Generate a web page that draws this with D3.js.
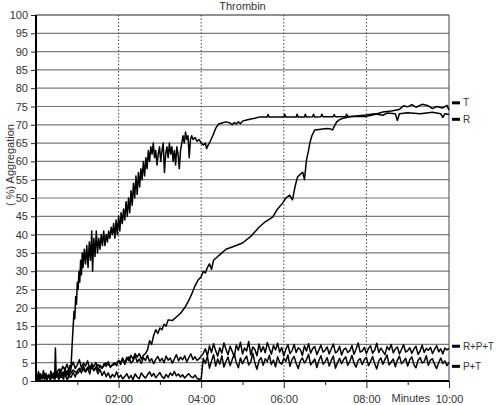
<!DOCTYPE html>
<html>
<head>
<meta charset="utf-8">
<script src="https://cdn.jsdelivr.net/npm/d3@7"></script>
<style>
  body { margin: 0; background: #fff; }
  svg { display: block; font-family: "Liberation Sans", Arial, sans-serif; }
  .grid-h line { stroke: #7a7a7a; stroke-width: 1.2; }
  .grid-v line { stroke: #444; stroke-width: 1; stroke-dasharray: 1.5,2; }
  .axis text { fill: #333; font-size: 11px; }
  .axis line { stroke: #222; }
  .trace { fill: none; stroke: #000; stroke-width: 1.5; stroke-linejoin: round; }
</style>
</head>
<body>
<svg width="498" height="405"></svg>
<script>
// tick values
var yTicks = d3.range(0, 101, 5);
var xMajor = [2, 4, 6, 8, 10];
var xMinor = [1, 3, 5, 7, 9];
var xTickLabels = ["02:00", "04:00", "06:00", "08:00", "10:00"];

// T : [minutes, % aggregation]
var seriesT = [
  [0,1.8],[0.03,0.4],[0.06,2.6],[0.09,0.2],[0.12,1.5],[0.15,0.7],[0.18,2.9],[0.21,0.5],[0.24,2.1],[0.27,0.3],
  [0.3,1.7],[0.33,0.6],[0.36,2.7],[0.39,1.1],[0.42,2.2],[0.45,0.4],[0.47,9.0],[0.49,1.0],[0.52,2.5],[0.55,0.6],
  [0.58,3.3],[0.61,1.2],[0.64,2.4],[0.67,0.5],[0.7,3.6],[0.73,1.4],[0.76,2.9],[0.79,0.8],[0.82,4.2],[0.84,2.5],
  [0.86,6.5],[0.88,11],[0.9,15],[0.92,19],[0.94,17],[0.96,23],[0.98,21],[1.0,27],[1.02,25],[1.04,30],
  [1.06,27],[1.08,33],[1.1,29],[1.12,35],[1.14,31],[1.17,36],[1.2,32],[1.23,37],[1.26,31],[1.29,38],
  [1.32,33],[1.35,41],[1.37,30],[1.4,39],[1.43,34],[1.46,41],[1.49,35],[1.52,39],[1.55,36],[1.58,40],
  [1.61,37],[1.64,41],[1.67,37],[1.7,40],[1.73,38],[1.76,41],[1.79,39],[1.82,42],[1.85,40],[1.88,43],
  [1.91,39],[1.94,44],[1.97,40],[2.0,45],[2.03,41],[2.06,46],[2.09,43],[2.12,47],[2.15,44],[2.18,49],
  [2.21,45],[2.24,50],[2.27,46],[2.3,52],[2.33,48],[2.36,54],[2.39,50],[2.42,56],[2.45,51],[2.48,57],
  [2.51,53],[2.54,58],[2.57,55],[2.6,60],[2.63,56],[2.66,61],[2.69,58],[2.72,63],[2.75,60],[2.78,64],
  [2.81,62],[2.84,65],[2.87,61],[2.9,63],[2.93,59],[2.96,62],[2.99,64],[3.02,60],[3.05,63],[3.08,65],
  [3.11,57],[3.14,62],[3.17,64],[3.2,61],[3.23,65],[3.26,62],[3.29,64],[3.32,60],[3.35,63],[3.38,59],
  [3.41,64],[3.44,62],[3.47,58],[3.5,63],[3.53,65],[3.56,67],[3.59,65],[3.62,68],[3.65,66],[3.68,67],
  [3.71,61],[3.74,66],[3.77,67],[3.8,66],[3.85,66.5],[3.9,65.5],[3.95,66],[4.0,65],[4.05,64.5],[4.1,65],
  [4.13,63.5],[4.17,64.5],[4.22,65.5],[4.28,67],[4.35,69],[4.42,70.2],[4.5,70.5],[4.6,70.8],[4.7,70.5],[4.75,70],
  [4.8,70.6],[4.85,70.2],[4.9,70.8],[4.95,70.3],[5.0,71],[5.1,71.3],[5.2,71.6],[5.3,71.8],[5.4,72.1],[5.6,72.1],
  [5.62,72.8],[5.65,72.1],[5.9,72.1],[6.0,72.1],[6.02,72.9],[6.05,72.1],[6.3,72.1],[6.32,72.9],[6.35,72.1],[6.5,72.1],
  [6.52,72.9],[6.55,72.1],[6.7,72.2],[6.72,72.9],[6.75,72.1],[6.9,72.2],[6.92,72.9],[6.95,72.2],[7.2,72.2],[7.22,72.8],
  [7.25,72.2],[7.5,72.3],[7.52,72.9],[7.55,72.3],[7.8,72.3],[8.0,72.3],[8.2,72.8],[8.4,73.5],[8.6,73.8],[8.8,74.2],
  [8.9,75.2],[9.0,74.9],[9.1,75.5],[9.2,74.8],[9.35,75.6],[9.5,75.2],[9.6,74.4],[9.7,75.0],[9.85,74.6],[9.95,75.3],[10,74.0]
];

// R : [minutes, % aggregation]
var seriesR = [
  [0,1],[0.1,2],[0.2,0.5],[0.3,1.5],[0.4,0.8],[0.5,2.2],[0.6,1.2],[0.7,2.8],[0.8,1.5],[0.9,3],
  [1.0,2],[1.1,3.5],[1.2,2.5],[1.3,4],[1.4,3],[1.5,4.5],[1.6,3.5],[1.7,5],[1.8,4],[1.9,4.5],
  [2.0,5.5],[2.05,4.5],[2.1,6],[2.15,5],[2.2,6.5],[2.25,5.5],[2.3,7],[2.35,6],[2.4,7.5],[2.45,6.5],
  [2.5,7.5],[2.55,6],[2.6,7],[2.65,7.5],[2.7,8.5],[2.75,11],[2.8,10],[2.85,12.5],[2.9,14],[2.95,13],
  [3.0,14.5],[3.05,14],[3.1,15.5],[3.15,15],[3.2,16.7],[3.3,16.5],[3.4,17.5],[3.5,18.5],[3.6,20],[3.7,22],
  [3.78,24],[3.85,26],[3.92,27.5],[4.0,28.5],[4.05,30],[4.1,29.5],[4.15,31],[4.2,32],[4.25,30.5],[4.3,33],
  [4.4,34],[4.5,35],[4.6,36],[4.8,36.8],[5.0,37.7],[5.2,39.5],[5.4,42],[5.55,43.5],[5.73,44.8],[5.85,47],
  [5.97,48.6],[6.05,50],[6.14,50.8],[6.21,49.5],[6.27,53],[6.33,55.7],[6.4,56.5],[6.46,57],[6.5,55],[6.55,60.4],
  [6.6,63],[6.63,65],[6.68,67],[6.75,68.6],[6.9,68.8],[7.04,69],[7.12,68.9],[7.18,68.6],[7.22,69.5],[7.28,70.8],
  [7.35,71.4],[7.43,71.8],[7.6,72.2],[7.8,72.5],[8.0,72.7],[8.2,73],[8.4,72.6],[8.5,73.2],[8.7,73],[8.75,71.2],
  [8.8,73],[9.0,73.3],[9.3,73],[9.5,73.3],[9.6,73.4],[9.8,73],[9.85,72],[9.9,73],[10,72.8]
];

// sample interval of the low traces, minutes
var lowStep = 0.05;

// P+T, one value per sample
var seriesPT = [
  1.2,0.4,1.8,0.6,2.0,0.8,1.4,0.3,1.6,0.9,2.2,0.5,1.3,0.7,1.9,0.4,1.5,1.0,2.4,1.1,2.8,
  3.5,2.2,4.1,2.6,3.8,1.9,4.4,2.8,3.6,2.0,3.2,1.5,
  2.6,1.2,2.2,0.8,1.8,1.1,2.5,0.9,
  1.6,0.6,1.2,2.0,0.7,1.5,0.4,1.9,1.1,0.6,2.2,1.4,0.8,1.7,2.5,1.3,2.1,0.9,1.6,2.3,
  1.2,0.7,1.8,1.0,2.2,1.5,2.6,1.4,1.9,1.1,1.7,0.8,1.5,2.0,1.2,0.9,1.6,0.7,0.5,0.6,
  6.2,4.8,6.8,3.5,5.5,7.2,4.1,6.0,4.6,6.9,3.8,5.4,6.5,4.2,5.8,7.4,5.0,3.6,6.3,4.7,
  5.9,6.8,4.4,5.2,7.6,4.9,3.2,5.6,6.4,4.3,6.1,5.3,7.0,4.5,5.7,3.9,6.6,5.1,4.6,6.2,
  5.4,7.1,4.0,5.9,6.7,4.8,3.4,5.5,6.3,4.9,5.8,7.3,4.4,5.2,6.0,3.7,5.6,6.9,4.6,5.3,
  6.4,4.1,5.7,6.8,3.5,5.0,6.2,4.7,5.9,6.6,4.3,5.4,7.0,4.9,3.8,5.6,6.1,4.5,5.8,6.5,
  4.2,5.3,6.7,4.8,3.3,5.5,6.3,4.6,5.9,7.1,4.4,5.2,6.0,3.9,5.7,6.8,4.7,5.4,6.2,4.1,
  5.8,6.6,4.5,3.6,5.6,6.4,4.9,5.3,6.9,4.3,5.7,6.1,4.6,3.4,5.0,6.3,4.8,5.5,4.2,5.1
];

// R+P+T, one value per sample
var seriesRPT = [
  0.8,1.6,0.3,1.2,2.0,0.5,1.4,0.9,1.8,0.4,2.3,
  3.2,2.4,4.0,3.0,4.6,2.8,3.8,5.2,3.4,4.4,5.8,3.6,4.9,4.1,5.5,3.3,4.7,3.9,5.1,2.9,
  4.3,3.5,4.8,4.0,5.3,3.7,4.5,5.0,4.2,5.6,
  5.1,6.3,4.6,5.8,6.6,4.9,5.5,6.9,5.2,6.0,4.8,6.4,5.6,7.0,5.3,6.1,4.7,5.9,6.7,5.4,
  6.2,5.0,6.8,5.7,6.3,4.9,6.0,7.2,5.5,6.5,5.8,6.9,5.2,6.4,7.4,5.9,6.6,5.6,6.1,6.8,
  7.5,8.8,6.9,9.6,7.8,10.2,8.3,6.8,9.1,7.6,10.4,8.7,7.2,9.5,8.1,6.6,9.8,8.4,10.6,7.4,
  9.0,8.2,10.8,7.1,9.3,8.6,6.9,10.1,8.0,9.4,7.7,10.5,8.9,7.3,9.7,8.5,10.3,7.9,9.2,6.8,
  8.7,9.9,7.5,8.3,10.0,7.8,9.1,8.6,7.0,9.6,8.2,10.2,7.6,8.9,9.4,7.2,8.5,9.8,7.9,8.4,
  9.3,7.4,8.8,10.1,7.7,8.1,9.5,7.1,8.6,9.0,7.8,8.3,9.7,7.3,8.7,10.4,7.9,8.2,9.2,7.5,
  8.9,9.6,7.6,8.4,10.3,7.8,9.0,8.1,7.2,9.4,8.5,10.0,7.7,8.8,9.3,7.4,8.6,9.9,7.9,8.3,
  9.1,7.6,8.7,9.5,7.3,8.2,9.8,7.8,8.9,8.4,9.2,7.5,8.6,9.7,8.0,8.8,7.4,9.0,8.5,8.9
];

var legendNames = ["T", "R", "R+P+T", "P+T"];
var legendAt = [76, 71.5, 9.5, 4];

var svg = d3.select("svg"),
margin = {top: 15, right: 49, bottom: 24, left: 36},
width = +svg.attr("width") - margin.left - margin.right,
height = +svg.attr("height") - margin.top - margin.bottom;

var x = d3.scaleLinear().domain([0, 10]).range([0, width]),
y = d3.scaleLinear().domain([0, 100]).range([height, 0]);

var g = svg.append("g")
.attr("transform", "translate(" + margin.left + "," + margin.top + ")");

// title
svg.append("text")
  .attr("x", margin.left + width / 2)
  .attr("y", 10)
  .attr("text-anchor", "middle")
  .style("font-size", "11px")
  .style("fill", "#333")
  .text("Thrombin");

// horizontal grid
g.append("g")
  .attr("class", "grid-h")
  .selectAll("line")
  .data(yTicks.filter(function(d) { return d > 0; }))
  .enter().append("line")
  .attr("x1", 0)
  .attr("x2", width)
  .attr("y1", function(d) { return y(d); })
  .attr("y2", function(d) { return y(d); })
  .style("stroke", function(d) { return d === 100 ? "#222" : null; });

// vertical dotted grid
g.append("g")
  .attr("class", "grid-v")
  .selectAll("line")
  .data(xMajor.filter(function(d) { return d < 10; }))
  .enter().append("line")
  .attr("x1", function(d) { return x(d); })
  .attr("x2", function(d) { return x(d); })
  .attr("y1", 0)
  .attr("y2", height);

// right frame
g.append("line")
  .attr("x1", width).attr("x2", width)
  .attr("y1", 0).attr("y2", height)
  .style("stroke", "#444");

// Y axis
g.append("g")
  .attr("class", "axis axis--y")
  .call(d3.axisLeft(y).tickValues(yTicks).tickSize(5).tickPadding(3))
  .call(function(a) { a.select(".domain").remove(); });

// X axis, major + minor
g.append("g")
  .attr("class", "axis axis--x")
  .attr("transform", "translate(0," + height + ")")
  .call(d3.axisBottom(x).tickValues(xMajor).tickSize(7).tickPadding(7)
    .tickFormat(function(d, i) { return xTickLabels[i]; }))
  .call(function(a) { a.select(".domain").remove(); });

g.append("g")
  .attr("class", "axis axis--x-minor")
  .attr("transform", "translate(0," + height + ")")
  .call(d3.axisBottom(x).tickValues(xMinor).tickSize(4).tickFormat(""))
  .call(function(a) { a.select(".domain").remove(); })
  .selectAll("line").style("stroke", "#222");

g.append("text")
  .attr("x", x(10) - 19)
  .attr("y", height + 21)
  .attr("text-anchor", "end")
  .style("font-size", "11px")
  .style("fill", "#333")
  .text("Minutes");

// axis lines
g.append("line")
  .attr("x1", 0).attr("x2", 0)
  .attr("y1", 0).attr("y2", height)
  .style("stroke", "#000").style("stroke-width", 2);
g.append("line")
  .attr("x1", 0).attr("x2", width)
  .attr("y1", height).attr("y2", height)
  .style("stroke", "#000").style("stroke-width", 2);

// y label
svg.append("text")
  .attr("transform", "translate(14," + (margin.top + y(59)) + ") rotate(-90)")
  .attr("text-anchor", "middle")
  .style("font-size", "11px")
  .style("fill", "#333")
  .text("( %) Aggregation");

// traces
var line = d3.line()
    .x(function(d) { return x(d[0]); })
    .y(function(d) { return y(d[1]); });

function sampled(vals) {
  return vals.map(function(v, i) { return [i * lowStep, v]; });
}

[sampled(seriesPT), sampled(seriesRPT), seriesR, seriesT].forEach(function(s) {
  g.append("path")
    .attr("class", "trace")
    .attr("d", line(s));
});

// legend at right
var leg = g.selectAll(".leg")
  .data(legendNames)
  .enter().append("g")
  .attr("class", "leg")
  .attr("transform", function(d, i) { return "translate(" + (width + 3) + "," + y(legendAt[i]) + ")"; });

leg.append("line")
  .attr("x1", 0).attr("x2", 8)
  .style("stroke", "#000").style("stroke-width", 3);

leg.append("text")
  .attr("x", 11)
  .attr("dy", "0.35em")
  .style("font-size", "10px")
  .style("letter-spacing", "-0.2px")
  .style("fill", "#333")
  .text(function(d) { return d; });
</script>
</body>
</html>
